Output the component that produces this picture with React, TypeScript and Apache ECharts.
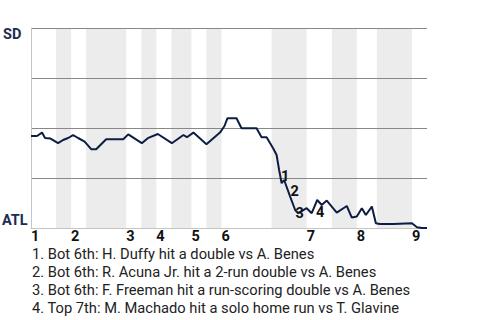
import React, { useEffect, useRef } from "react";
import * as echarts from "echarts";

// Play index (x) and SD win probability % (y)
const playIndex = [0, 1.2, 2.2, 2.8, 3.9, 5.4, 6.4, 7.4, 8.4, 9.4, 10.7, 12, 13, 15, 18.4, 19.4, 22.1, 23.3, 25.3, 28.1, 30.4, 31.1, 32.4, 35, 37.7, 38.6, 39.2, 41, 42, 45, 46, 47, 48.3, 49, 49.5, 50, 50.5, 51.7, 52.7, 53.3, 55, 56, 57.1, 58, 59, 61, 63, 64, 65, 66, 66.8, 68, 68.8, 69.6, 72.3, 76, 77, 78, 79];
const sdWinPct = [46, 46, 47.7, 45, 44.7, 42.4, 44, 45, 46.4, 45, 43.2, 39.4, 39.4, 44.4, 44.4, 46.8, 42.4, 44.9, 47, 42.4, 46.5, 45.4, 47.7, 41.9, 47.7, 51, 54.9, 54.9, 49.9, 49.9, 45.4, 45.4, 39.9, 36.5, 29, 22.4, 24, 15.7, 9, 7.4, 9.9, 7.4, 14, 11.5, 13.7, 7.7, 11, 5.2, 5.7, 9.9, 6.5, 10.7, 2.4, 2, 2, 2.4, 0.4, 0, 0];

const inningLabels = ["1", "2", "3", "4", "5", "6", "7", "8", "9"];
const inningStarts = [0, 8, 19, 25, 32, 38, 55, 65, 76];
const bottomHalfStart = [5, 11, 22, 28, 35, 48, 60, 69];
const bottomHalfEnd = [8, 19, 25, 32, 38, 55, 65, 76];
const totalPlays = 79;

const annoLabels = ["1", "2", "3", "4"];
const annoX = [50.7, 52.6, 53.6, 57.7];
const annoY = [26, 18.5, 7.5, 8];

const teamTop = "SD";
const teamBottom = "ATL";
const notes = [
  "1. Bot 6th: H. Duffy hit a double vs A. Benes",
  "2. Bot 6th: R. Acuna Jr. hit a 2-run double vs A. Benes",
  "3. Bot 6th: F. Freeman hit a run-scoring double vs A. Benes",
  "4. Top 7th: M. Machado hit a solo home run vs T. Glavine",
];

export default function App() {
  const ref = useRef<HTMLDivElement>(null);
  useEffect(() => {
    document.body.style.margin = "0";
    const chart = echarts.init(ref.current!, null, { renderer: "svg" });
    const font = "Roboto";
    chart.setOption({
      animation: false,
      textStyle: { fontFamily: font },
      grid: { left: 31, right: 53, top: 28, bottom: 92 },
      xAxis: {
        type: "value",
        min: 0,
        max: totalPlays,
        z: 3,
        axisLine: { show: true, lineStyle: { color: "#c4c4c4", width: 1 } },
        axisTick: { show: false },
        splitLine: { show: false },
        axisLabel: {
          customValues: inningStarts,
          formatter: (v: number) => inningLabels[inningStarts.indexOf(v)] ?? "",
          align: "left",
          margin: 1,
          fontSize: 14.5,
          lineHeight: 14,
          fontWeight: "bold",
          color: "#111",
          fontFamily: font,
        },
      },
      yAxis: {
        type: "value",
        min: 0,
        max: 100,
        interval: 25,
        z: 3,
        axisLine: { show: true, lineStyle: { color: "#c4c4c4", width: 1 } },
        axisTick: { show: false },
        axisLabel: { show: false },
        splitLine: {
          show: true,
          lineStyle: { color: ["#c4c4c4", "#888", "#888", "#888", "#888"], width: 1 },
        },
      },
      series: [
        {
          type: "line",
          data: [],
          z: 1,
          silent: true,
          markArea: {
            silent: true,
            itemStyle: { color: "#ececec" },
            data: bottomHalfStart.map((s, i) => [{ xAxis: s }, { xAxis: bottomHalfEnd[i] }]),
          },
        },
        {
          type: "line",
          z: 5,
          data: playIndex.map((x, i) => [x, sdWinPct[i]]),
          showSymbol: false,
          symbol: "none",
          lineStyle: { color: "#0d1d44", width: 2 },
        },
        {
          type: "scatter",
          z: 6,
          silent: true,
          data: annoX.map((x, i) => [x, annoY[i]]),
          symbolSize: 0,
          itemStyle: { color: "#111", opacity: 1 },
          label: {
            show: true,
            position: "inside",
            formatter: (p: any) => annoLabels[p.dataIndex],
            fontSize: 14.5,
            fontWeight: "bold",
            color: "#111",
            opacity: 1,
            textBorderWidth: 0,
            fontFamily: font,
          },
        },
      ],
      graphic: [
        {
          type: "text",
          x: 3,
          y: 34,
          style: { text: teamTop, fontSize: 14.5, fontWeight: "bold", fill: "#1c2b4f", fontFamily: font, textVerticalAlign: "middle" },
        },
        {
          type: "text",
          x: 2,
          y: 220,
          style: { text: teamBottom, fontSize: 14.5, fontWeight: "bold", fill: "#1c2b4f", fontFamily: font, textVerticalAlign: "middle" },
        },
        ...notes.map((t, i) => ({
          type: "text",
          x: 32,
          y: 254 + i * 18,
          style: { text: t, fontSize: 14.7, lineHeight: 16, fill: "#222", fontFamily: font, textVerticalAlign: "middle" },
        })),
      ],
    });
    return () => chart.dispose();
  }, []);
  return <div ref={ref} style={{ width: 480, height: 320 }} />;
}
